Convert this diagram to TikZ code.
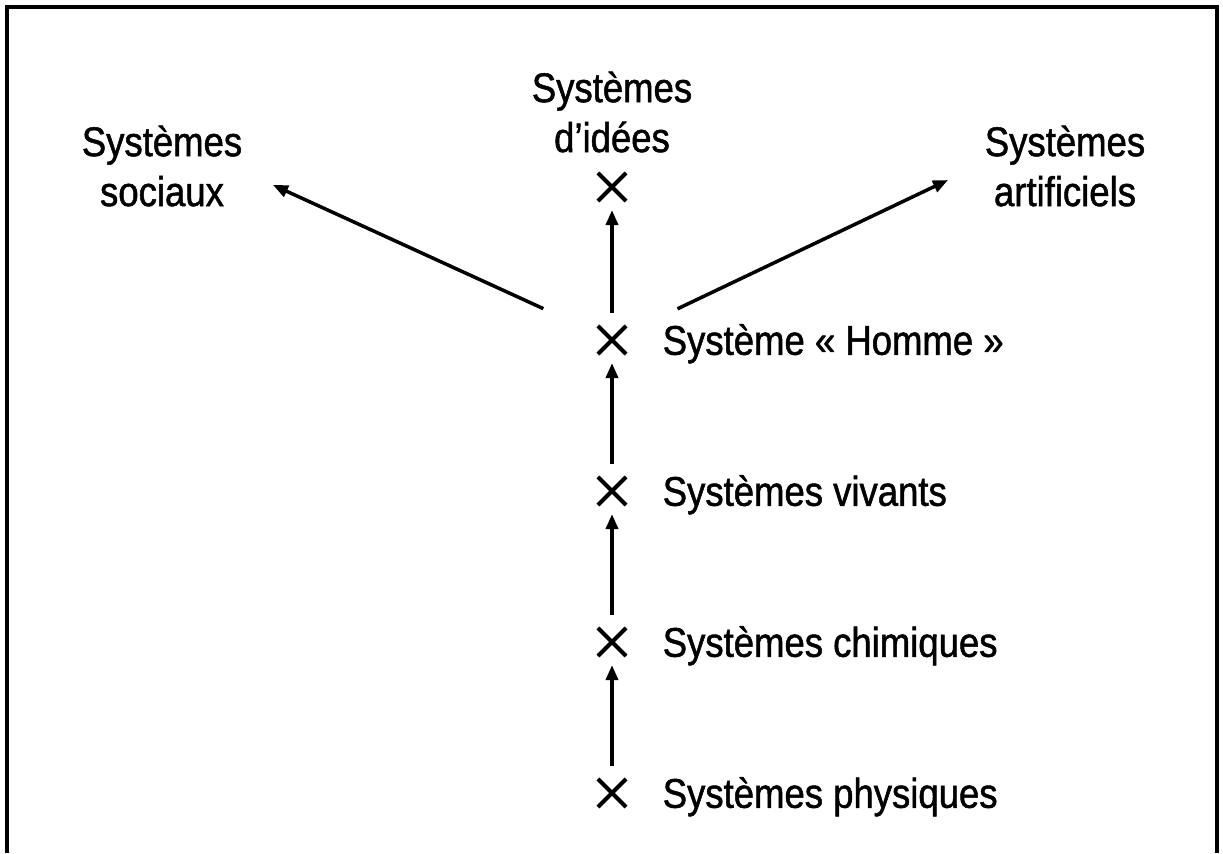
\documentclass[tikz,border=0pt]{standalone}
\usepackage{fontspec}
\setmainfont[FakeStretch=0.88, FakeBold=1.2]{Liberation Sans}
\usetikzlibrary{shapes.misc}
\usetikzlibrary{arrows.meta}
\usetikzlibrary{positioning}

\begin{document}
\begin{tikzpicture}[x=0.01cm, y=-0.01cm,
  cross/.style={draw, cross out, minimum size=0.24cm, inner sep=0pt, line width=1.15pt},
  lab/.style={inner sep=0pt, text height=8.4pt, text depth=0pt, font=\fontsize{11.8}{14.2}\selectfont},
  biglab/.style={inner sep=0pt, align=center, font=\fontsize{11.8}{14.2}\selectfont},
  arr/.style={line width=1pt, -{Triangle[length=0.15cm, width=0.12cm]}}]
\useasboundingbox (0,0) rectangle (1223,853);
\draw[line width=1.2pt] (7,853) -- (7,7) -- (1217,7) -- (1217,853);
\node[cross] (physiques) at (612,793) {};
\node[cross] (chimiques) at (612,642) {};
\node[cross] (vivants) at (612,491) {};
\node[cross] (homme) at (612,340) {};
\node[cross] (idees) at (612,187) {};
\node[lab, right=0.36cm of physiques] (Lphysiques) {Systèmes physiques};
\node[lab, right=0.36cm of chimiques] (Lchimiques) {Systèmes chimiques};
\node[lab, right=0.36cm of vivants] (Lvivants) {Systèmes vivants};
\node[lab, right=0.36cm of homme] (Lhomme) {Système «~Homme~»};
\node[biglab] (Lidees) at (612,112) {Systèmes\\d’idées};
\node[biglab] (sociaux) at (162,166) {Systèmes\\sociaux};
\node[biglab] (artificiels) at (1065,166) {Systèmes\\artificiels};
\coordinate (Tsociaux) at (273,185);
\coordinate (Tartificiels) at (948,180);
\draw[arr, shorten <=0.13cm, shorten >=0.09cm] (physiques) -- (chimiques);
\draw[arr, shorten <=0.13cm, shorten >=0.09cm] (chimiques) -- (vivants);
\draw[arr, shorten <=0.13cm, shorten >=0.09cm] (vivants) -- (homme);
\draw[arr, shorten <=0.13cm, shorten >=0.09cm] (homme) -- (idees);
\draw[arr, shorten <=0.6cm] (homme) -- (Tsociaux);
\draw[arr, shorten <=0.57cm] (homme) -- (Tartificiels);
\end{tikzpicture}
\end{document}
